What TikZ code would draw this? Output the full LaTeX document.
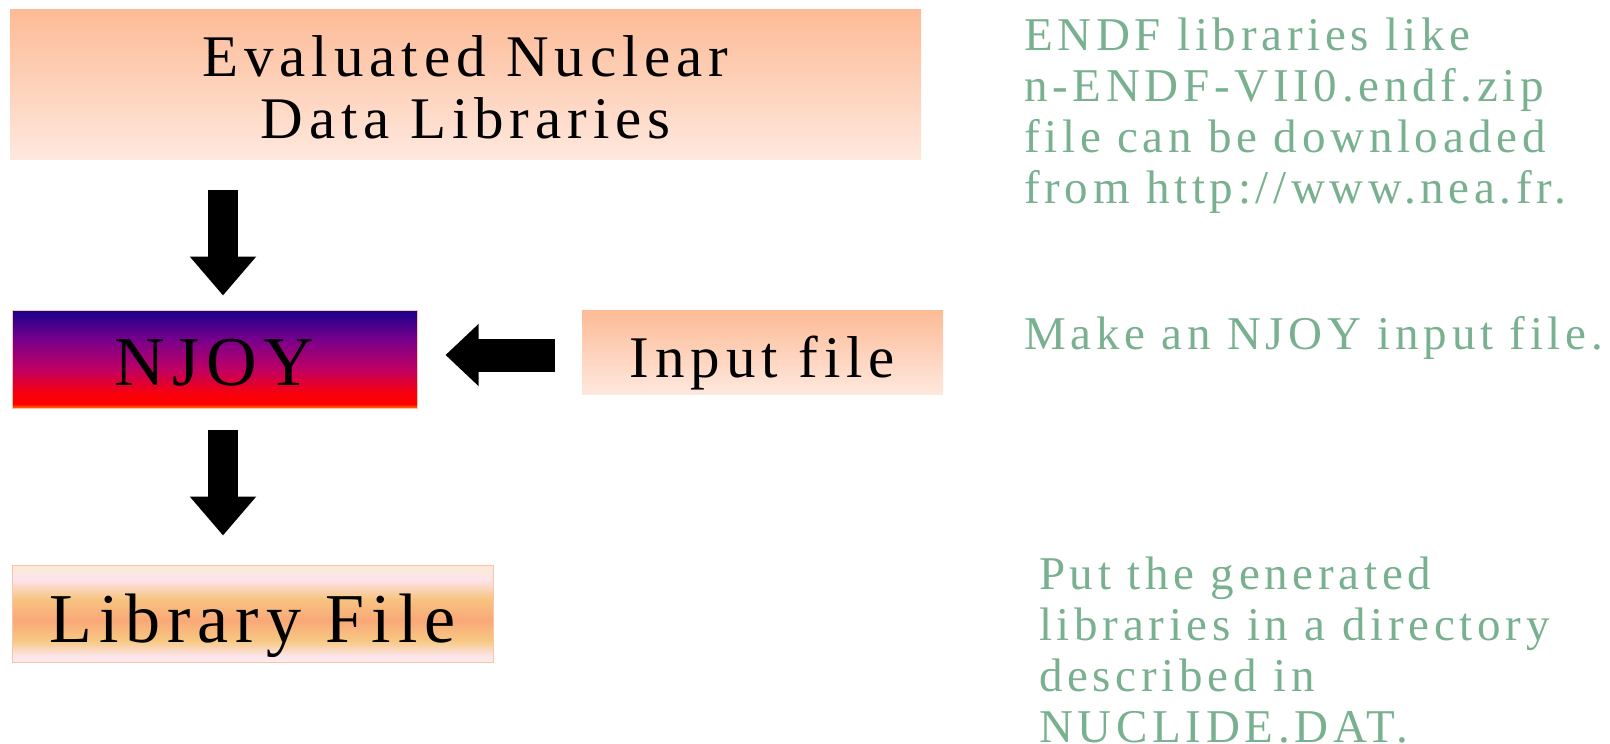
\documentclass[tikz,border=0pt]{standalone}
\usepackage{fontspec}
\setmainfont{Liberation Serif}[LetterSpace=10]
\usetikzlibrary{arrows.meta}
\definecolor{peachtop}{RGB}{253,187,150}
\definecolor{peachbot}{RGB}{254,232,222}
\definecolor{peachedge}{RGB}{250,196,166}
\definecolor{notegreen}{RGB}{120,176,144}
\pgfdeclareverticalshading{njoyshade}{100bp}{%
  color(0bp)=(rgb,255:red,255;green,120;blue,0);
  color(25bp)=(rgb,255:red,255;green,120;blue,0);
  color(27bp)=(rgb,255:red,255;green,0;blue,0);
  color(32bp)=(rgb,255:red,250;green,0;blue,10);
  color(45bp)=(rgb,255:red,190;green,0;blue,100);
  color(60bp)=(rgb,255:red,120;green,0;blue,140);
  color(75bp)=(rgb,255:red,24;green,0;blue,140);
  color(100bp)=(rgb,255:red,24;green,0;blue,140)}
\pgfdeclareverticalshading{libshade}{100bp}{%
  color(0bp)=(rgb,255:red,252;green,236;blue,236);
  color(25bp)=(rgb,255:red,252;green,236;blue,236);
  color(28.5bp)=(rgb,255:red,252;green,228;blue,232);
  color(36bp)=(rgb,255:red,247;green,200;blue,130);
  color(46.5bp)=(rgb,255:red,249;green,168;blue,120);
  color(57.5bp)=(rgb,255:red,247;green,196;blue,128);
  color(67.5bp)=(rgb,255:red,252;green,228;blue,236);
  color(75bp)=(rgb,255:red,251;green,234;blue,212);
  color(100bp)=(rgb,255:red,251;green,234;blue,212)}
\begin{document}
\begin{tikzpicture}[x=1pt,y=-1pt,
  box/.style={rectangle, inner sep=0pt, align=center, text=black},
  peachbox/.style={box, top color=peachtop, bottom color=peachbot},
  varrow/.style={line width=30pt, black, -{Triangle[width=64pt,length=39pt]}},
  harrow/.style={line width=33pt, black, -{Triangle[width=60pt,length=33pt]}},
  note/.style={inner sep=0pt, anchor=base west, align=left, text=notegreen,
    font=\fontsize{47}{51}\selectfont}]
\useasboundingbox (0,0) rectangle (1610,744);
\node[peachbox, minimum width=911pt, minimum height=150pt,
  font=\fontsize{59}{62}\selectfont] (top) at (465.5,84)
  {\rule{0pt}{47pt}Evaluated Nuclear\\Data Libraries};
\node[box, shading=njoyshade, draw=peachedge, line width=1pt,
  minimum width=405pt, minimum height=98pt, text height=52pt, text depth=0pt,
  font=\fontsize{70}{70}\selectfont] (njoy) at (214.5,359) {NJOY};
\node[peachbox, minimum width=361pt, minimum height=84pt, text height=50pt, text depth=0pt,
  font=\fontsize{59}{62}\selectfont] (input) at (762.5,352) {Input file};
\node[box, shading=libshade, draw=peachedge, line width=1pt,
  minimum width=481pt, minimum height=97pt, text height=57pt, text depth=0pt,
  font=\fontsize{70}{70}\selectfont] (lib) at (252.5,613.5) {Library File};
\draw[varrow] ([xshift=-242.5pt,yshift=-31pt]top.south) -- ([xshift=8.5pt,yshift=14pt]njoy.north);
\draw[varrow] ([xshift=8.5pt,yshift=-21pt]njoy.south) -- ([xshift=-29.5pt,yshift=29pt]lib.north);
\draw[harrow] ([xshift=-27pt,yshift=-3pt]input.west) -- ([xshift=28pt,yshift=4pt]njoy.east);
\node[note] (n1) at (1024,203) {ENDF libraries like\\n-ENDF-VII0.endf.zip\\file can be downloaded\\from http://www.nea.fr.};
\node[note] (n2) at (1024,349) {Make an NJOY input file.};
\node[note] (n3) at (1039,742) {Put the generated\\libraries in a directory\\described in\\NUCLIDE.DAT.};
\end{tikzpicture}
\end{document}
